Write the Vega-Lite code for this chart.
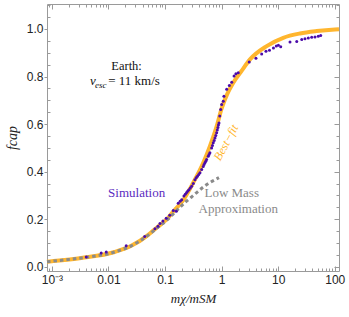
{
  "$schema": "https://vega.github.io/schema/vega-lite/v6.json",
  "width": 292,
  "height": 267,
  "autosize": {"type": "none"},
  "padding": {"left": 47, "top": 4, "right": 10, "bottom": 46},
  "background": "white",
  "config": {"view": {"stroke": null}},
  "datasets": {
    "fit": [
      {"x": 0.00082, "y": 0.021}, {"x": 0.001, "y": 0.023}, {"x": 0.0033, "y": 0.037},
      {"x": 0.0129, "y": 0.062}, {"x": 0.0253, "y": 0.088}, {"x": 0.0499, "y": 0.133},
      {"x": 0.062, "y": 0.152}, {"x": 0.075, "y": 0.168}, {"x": 0.113, "y": 0.205},
      {"x": 0.14, "y": 0.232}, {"x": 0.21, "y": 0.28}, {"x": 0.315, "y": 0.353},
      {"x": 0.474, "y": 0.437}, {"x": 0.622, "y": 0.507}, {"x": 0.818, "y": 0.59},
      {"x": 1.0, "y": 0.665}, {"x": 1.25, "y": 0.725}, {"x": 1.61, "y": 0.774},
      {"x": 2.2, "y": 0.82}, {"x": 3.18, "y": 0.872}, {"x": 6.27, "y": 0.928},
      {"x": 12.3, "y": 0.963}, {"x": 24.3, "y": 0.981}, {"x": 48, "y": 0.991},
      {"x": 101, "y": 0.998}, {"x": 119, "y": 0.999}
    ],
    "lowmass": [
      {"x": 0.00082, "y": 0.021}, {"x": 0.001, "y": 0.023}, {"x": 0.0033, "y": 0.037},
      {"x": 0.0129, "y": 0.062}, {"x": 0.0253, "y": 0.088}, {"x": 0.0499, "y": 0.132},
      {"x": 0.075, "y": 0.166}, {"x": 0.113, "y": 0.2}, {"x": 0.14, "y": 0.222},
      {"x": 0.184, "y": 0.25}, {"x": 0.24, "y": 0.276}, {"x": 0.3, "y": 0.295},
      {"x": 0.38, "y": 0.316}, {"x": 0.48, "y": 0.336}, {"x": 0.6, "y": 0.352},
      {"x": 0.75, "y": 0.365}, {"x": 0.9, "y": 0.375}
    ],
    "sim": [
      {"x": 0.00405, "y": 0.041}, {"x": 0.00745, "y": 0.058}, {"x": 0.00914, "y": 0.062},
      {"x": 0.0206, "y": 0.088}, {"x": 0.0437, "y": 0.127}, {"x": 0.0664, "y": 0.16},
      {"x": 0.075, "y": 0.17}, {"x": 0.0813, "y": 0.182}, {"x": 0.0918, "y": 0.192},
      {"x": 0.105, "y": 0.204}, {"x": 0.121, "y": 0.217}, {"x": 0.14, "y": 0.236},
      {"x": 0.158, "y": 0.233}, {"x": 0.171, "y": 0.267}, {"x": 0.185, "y": 0.275},
      {"x": 0.197, "y": 0.282}, {"x": 0.216, "y": 0.297}, {"x": 0.228, "y": 0.305},
      {"x": 0.241, "y": 0.312}, {"x": 0.253, "y": 0.318}, {"x": 0.265, "y": 0.324},
      {"x": 0.28, "y": 0.331}, {"x": 0.296, "y": 0.338}, {"x": 0.316, "y": 0.35},
      {"x": 0.338, "y": 0.366}, {"x": 0.356, "y": 0.374}, {"x": 0.374, "y": 0.381},
      {"x": 0.395, "y": 0.388}, {"x": 0.415, "y": 0.395}, {"x": 0.445, "y": 0.409},
      {"x": 0.474, "y": 0.422}, {"x": 0.49, "y": 0.43}, {"x": 0.508, "y": 0.437},
      {"x": 0.526, "y": 0.444}, {"x": 0.544, "y": 0.451}, {"x": 0.581, "y": 0.465},
      {"x": 0.6, "y": 0.472}, {"x": 0.622, "y": 0.479}, {"x": 0.667, "y": 0.499},
      {"x": 0.69, "y": 0.51}, {"x": 0.713, "y": 0.521}, {"x": 0.74, "y": 0.531},
      {"x": 0.764, "y": 0.541}, {"x": 0.79, "y": 0.552}, {"x": 0.818, "y": 0.563},
      {"x": 0.84, "y": 0.575}, {"x": 0.863, "y": 0.586}, {"x": 0.88, "y": 0.596},
      {"x": 0.9, "y": 0.605}, {"x": 0.929, "y": 0.634}, {"x": 0.964, "y": 0.661},
      {"x": 1.002, "y": 0.682}, {"x": 1.071, "y": 0.696}, {"x": 1.1, "y": 0.717},
      {"x": 1.23, "y": 0.746}, {"x": 1.37, "y": 0.762}, {"x": 1.51, "y": 0.776},
      {"x": 1.66, "y": 0.802}, {"x": 1.79, "y": 0.812}, {"x": 1.97, "y": 0.816},
      {"x": 3.08, "y": 0.861}, {"x": 4.05, "y": 0.877}, {"x": 5.11, "y": 0.895},
      {"x": 6.09, "y": 0.906}, {"x": 7.03, "y": 0.91}, {"x": 8.26, "y": 0.92},
      {"x": 9.27, "y": 0.928}, {"x": 10.1, "y": 0.932}, {"x": 11.1, "y": 0.925},
      {"x": 16.2, "y": 0.945}, {"x": 21.3, "y": 0.947}, {"x": 26.1, "y": 0.956},
      {"x": 29.8, "y": 0.959}, {"x": 34.1, "y": 0.962}, {"x": 39.2, "y": 0.965},
      {"x": 44.8, "y": 0.966}, {"x": 51.2, "y": 0.969}, {"x": 56.5, "y": 0.972}
    ]
  },
  "resolve": {"axis": {"x": "independent", "y": "independent"}},
  "layer": [
    {
      "data": {"name": "fit"},
      "mark": {"type": "line", "color": "#FFB62E", "strokeWidth": 4, "interpolate": "monotone"},
      "encoding": {
        "x": {
          "field": "x", "type": "quantitative",
          "scale": {"type": "log", "domain": [0.00082, 119], "nice": false},
          "axis": {
            "orient": "bottom",
            "values": [0.0009, 0.001, 0.002, 0.003, 0.004, 0.005, 0.006, 0.007, 0.008, 0.009, 0.01, 0.02, 0.03, 0.04, 0.05, 0.06, 0.07, 0.08, 0.09, 0.1, 0.2, 0.3, 0.4, 0.5, 0.6, 0.7, 0.8, 0.9, 1, 2, 3, 4, 5, 6, 7, 8, 9, 10, 20, 30, 40, 50, 60, 70, 80, 90, 100],
            "labelExpr": "datum.value === 0.001 ? '10⁻³' : (indexof([0.01, 0.1, 1, 10, 100], datum.value) >= 0 ? toString(datum.value) : '')",
            "tickSize": {"condition": {"test": "indexof([0.001, 0.01, 0.1, 1, 10, 100], datum.value) >= 0", "value": -5}, "value": -3},
            "tickColor": "#9a9a9a", "domainColor": "#9a9a9a",
            "labelFont": "Liberation Sans, Arial, sans-serif", "labelFontSize": 12, "labelColor": "#222",
            "labelPadding": 8, "labelFlush": false, "labelOverlap": false, "labelBound": false,
            "grid": false,
            "title": "mχ/mSM", "titleFont": "Liberation Serif, Times New Roman, serif", "titleFontStyle": "italic",
            "titleFontWeight": "normal", "titleFontSize": 13, "titleColor": "#222", "titlePadding": 5
          }
        },
        "y": {
          "field": "y", "type": "quantitative",
          "scale": {"domain": [-0.018, 1.105], "nice": false, "zero": false},
          "axis": {
            "orient": "left",
            "values": [0, 0.05, 0.1, 0.15, 0.2, 0.25, 0.3, 0.35, 0.4, 0.45, 0.5, 0.55, 0.6, 0.65, 0.7, 0.75, 0.8, 0.85, 0.9, 0.95, 1, 1.05, 1.1],
            "labelExpr": "abs(datum.value * 5 - round(datum.value * 5)) < 0.001 ? format(datum.value, '.1f') : ''",
            "tickSize": {"condition": {"test": "abs(datum.value * 5 - round(datum.value * 5)) < 0.001", "value": 3}, "value": -3},
            "tickColor": "#9a9a9a", "domainColor": "#9a9a9a",
            "labelFont": "Liberation Sans, Arial, sans-serif", "labelFontSize": 12, "labelColor": "#222",
            "labelPadding": 1, "labelOverlap": false, "labelBound": false, "labelFlush": false,
            "grid": false,
            "title": "fcap", "titleFont": "Liberation Serif, Times New Roman, serif", "titleFontStyle": "italic",
            "titleFontWeight": "normal", "titleFontSize": 14, "titleColor": "#222", "titlePadding": 7
          }
        }
      }
    },
    {
      "data": {"name": "lowmass"},
      "mark": {"type": "line", "color": "#8a8a8a", "strokeWidth": 3, "strokeDash": [3.5, 3], "interpolate": "monotone"},
      "encoding": {
        "x": {"field": "x", "type": "quantitative", "scale": {"type": "log", "domain": [0.00082, 119], "nice": false}, "axis": null},
        "y": {"field": "y", "type": "quantitative", "scale": {"domain": [-0.018, 1.105], "nice": false, "zero": false}, "axis": null}
      }
    },
    {
      "data": {"name": "sim"},
      "mark": {"type": "circle", "color": "#4B0BAA", "size": 9, "opacity": 1},
      "encoding": {
        "x": {"field": "x", "type": "quantitative", "scale": {"type": "log", "domain": [0.00082, 119], "nice": false}, "axis": null},
        "y": {"field": "y", "type": "quantitative", "scale": {"domain": [-0.018, 1.105], "nice": false, "zero": false}, "axis": null}
      }
    },
    {
      "data": {"values": [{"x": 0.0209, "y": 0.828, "t": "Earth:"}]},
      "mark": {"type": "text", "font": "Liberation Serif, Times New Roman, serif", "fontSize": 12.5, "align": "center", "baseline": "alphabetic", "color": "#111"},
      "encoding": {
        "x": {"field": "x", "type": "quantitative", "scale": {"type": "log", "domain": [0.00082, 119], "nice": false}, "axis": null},
        "y": {"field": "y", "type": "quantitative", "scale": {"domain": [-0.018, 1.105], "nice": false, "zero": false}, "axis": null},
        "text": {"field": "t"}
      }
    },
    {
      "data": {"values": [{"x": 0.0047, "y": 0.765, "t": "v"}]},
      "mark": {"type": "text", "font": "Liberation Serif, Times New Roman, serif", "fontSize": 13, "fontStyle": "italic", "align": "left", "baseline": "alphabetic", "color": "#111"},
      "encoding": {
        "x": {"field": "x", "type": "quantitative", "scale": {"type": "log", "domain": [0.00082, 119], "nice": false}, "axis": null},
        "y": {"field": "y", "type": "quantitative", "scale": {"domain": [-0.018, 1.105], "nice": false, "zero": false}, "axis": null},
        "text": {"field": "t"}
      }
    },
    {
      "data": {"values": [{"x": 0.00577, "y": 0.753, "t": "esc"}]},
      "mark": {"type": "text", "font": "Liberation Serif, Times New Roman, serif", "fontSize": 9, "fontStyle": "italic", "align": "left", "baseline": "alphabetic", "color": "#111"},
      "encoding": {
        "x": {"field": "x", "type": "quantitative", "scale": {"type": "log", "domain": [0.00082, 119], "nice": false}, "axis": null},
        "y": {"field": "y", "type": "quantitative", "scale": {"domain": [-0.018, 1.105], "nice": false, "zero": false}, "axis": null},
        "text": {"field": "t"}
      }
    },
    {
      "data": {"values": [{"x": 0.0099, "y": 0.765, "t": "= 11 km/s"}]},
      "mark": {"type": "text", "font": "Liberation Serif, Times New Roman, serif", "fontSize": 13, "align": "left", "baseline": "alphabetic", "color": "#111"},
      "encoding": {
        "x": {"field": "x", "type": "quantitative", "scale": {"type": "log", "domain": [0.00082, 119], "nice": false}, "axis": null},
        "y": {"field": "y", "type": "quantitative", "scale": {"domain": [-0.018, 1.105], "nice": false, "zero": false}, "axis": null},
        "text": {"field": "t"}
      }
    },
    {
      "data": {"values": [{"x": 0.0315, "y": 0.31, "t": "Simulation"}]},
      "mark": {"type": "text", "font": "Liberation Serif, Times New Roman, serif", "fontSize": 13, "align": "center", "baseline": "middle", "color": "#5B2BC0"},
      "encoding": {
        "x": {"field": "x", "type": "quantitative", "scale": {"type": "log", "domain": [0.00082, 119], "nice": false}, "axis": null},
        "y": {"field": "y", "type": "quantitative", "scale": {"domain": [-0.018, 1.105], "nice": false, "zero": false}, "axis": null},
        "text": {"field": "t"}
      }
    },
    {
      "data": {"values": [{"x": 1.51, "y": 0.31, "t": "Low Mass"}, {"x": 1.97, "y": 0.243, "t": "Approximation"}]},
      "mark": {"type": "text", "font": "Liberation Serif, Times New Roman, serif", "fontSize": 13, "align": "center", "baseline": "middle", "color": "#8a8a8a"},
      "encoding": {
        "x": {"field": "x", "type": "quantitative", "scale": {"type": "log", "domain": [0.00082, 119], "nice": false}, "axis": null},
        "y": {"field": "y", "type": "quantitative", "scale": {"domain": [-0.018, 1.105], "nice": false, "zero": false}, "axis": null},
        "text": {"field": "t"}
      }
    },
    {
      "data": {"values": [{"x": 1.19, "y": 0.522, "t": "Best−fit"}]},
      "mark": {"type": "text", "font": "Liberation Serif, Times New Roman, serif", "fontSize": 12, "fontStyle": "italic", "align": "center", "baseline": "middle", "angle": -62, "color": "#FFB62E"},
      "encoding": {
        "x": {"field": "x", "type": "quantitative", "scale": {"type": "log", "domain": [0.00082, 119], "nice": false}, "axis": null},
        "y": {"field": "y", "type": "quantitative", "scale": {"domain": [-0.018, 1.105], "nice": false, "zero": false}, "axis": null},
        "text": {"field": "t"}
      }
    },
    {
      "data": {"name": "fit"},
      "mark": {"type": "point", "opacity": 0},
      "encoding": {
        "x": {
          "field": "x", "type": "quantitative",
          "scale": {"type": "log", "domain": [0.00082, 119], "nice": false},
          "axis": {
            "orient": "top",
            "values": [0.0009, 0.001, 0.002, 0.003, 0.004, 0.005, 0.006, 0.007, 0.008, 0.009, 0.01, 0.02, 0.03, 0.04, 0.05, 0.06, 0.07, 0.08, 0.09, 0.1, 0.2, 0.3, 0.4, 0.5, 0.6, 0.7, 0.8, 0.9, 1, 2, 3, 4, 5, 6, 7, 8, 9, 10, 20, 30, 40, 50, 60, 70, 80, 90, 100],
            "labels": false, "title": null, "grid": false,
            "tickSize": {"condition": {"test": "indexof([0.001, 0.01, 0.1, 1, 10, 100], datum.value) >= 0", "value": -5}, "value": -3},
            "tickColor": "#9a9a9a", "domainColor": "#9a9a9a"
          }
        },
        "y": {
          "field": "y", "type": "quantitative",
          "scale": {"domain": [-0.018, 1.105], "nice": false, "zero": false},
          "axis": {
            "orient": "right",
            "values": [0, 0.05, 0.1, 0.15, 0.2, 0.25, 0.3, 0.35, 0.4, 0.45, 0.5, 0.55, 0.6, 0.65, 0.7, 0.75, 0.8, 0.85, 0.9, 0.95, 1, 1.05, 1.1],
            "labels": false, "title": null, "grid": false,
            "tickSize": {"condition": {"test": "abs(datum.value * 5 - round(datum.value * 5)) < 0.001", "value": -5}, "value": -3},
            "tickColor": "#9a9a9a", "domainColor": "#9a9a9a"
          }
        }
      }
    }
  ]
}
